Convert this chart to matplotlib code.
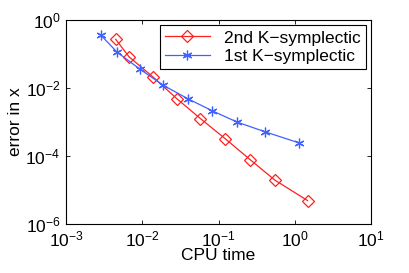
import matplotlib
matplotlib.use("Agg")
import matplotlib.pyplot as plt

# CPU time vs error
cpu_2nd = [0.00449, 0.0067, 0.014, 0.0284, 0.058, 0.123, 0.26, 0.548, 1.47]
err_2nd = [0.27, 0.083, 0.0206, 0.00485, 0.00126, 3.2e-4, 7.8e-5, 1.96e-5, 4.9e-6]

cpu_1st = [0.00288, 0.0047, 0.0094, 0.0189, 0.0395, 0.0824, 0.174, 0.413, 1.12]
err_1st = [0.354, 0.112, 0.0354, 0.012, 0.00485, 0.00215, 0.001, 5.1e-4, 2.46e-4]

labels = ["2nd K\u2212symplectic", "1st K\u2212symplectic"]

plt.rcParams['font.family'] = ['Liberation Sans', 'DejaVu Sans']
plt.rcParams['font.size'] = 12.5

fig = plt.figure(figsize=(4.09, 2.73), dpi=100)
ax = fig.add_axes([66 / 409, 1 - 224 / 273, (371 - 66) / 409, (224 - 20) / 273])

ax.loglog(cpu_2nd, err_2nd, '-', color='#ff2020', lw=0.9, marker='D',
          markersize=6, markerfacecolor='none', markeredgecolor='#ff2020',
          markeredgewidth=0.9, label=labels[0])
# MATLAB-style '*' marker: six-armed asterisk
ax.loglog(cpu_1st, err_1st, '-', color='#4060ff', lw=0.9, marker=(6, 2, 0),
          markersize=7, markeredgewidth=0.9, label=labels[1])

ax.set_xlim(1e-3, 1e1)
ax.set_ylim(1e-6, 1e0)
ax.set_xticks([1e-3, 1e-2, 1e-1, 1e0, 1e1])
ax.set_yticks([1e-6, 1e-4, 1e-2, 1e0])
ax.minorticks_off()
ax.tick_params(which='both', direction='in', top=True, right=True, length=3, width=0.6)
ax.tick_params(axis='x', pad=4)
ax.tick_params(axis='y', pad=4)
for s in ax.spines.values():
    s.set_linewidth(0.8)

ax.set_xlabel("CPU time", labelpad=-1)
ax.set_ylabel("error in x", labelpad=2)

leg = ax.legend(loc='upper right', fancybox=False, framealpha=1, edgecolor='black',
                borderpad=0.3, handlelength=2.6, labelspacing=0.2,
                borderaxespad=0.3)
leg.get_frame().set_linewidth(0.8)

fig.savefig("out.png", dpi=100)
